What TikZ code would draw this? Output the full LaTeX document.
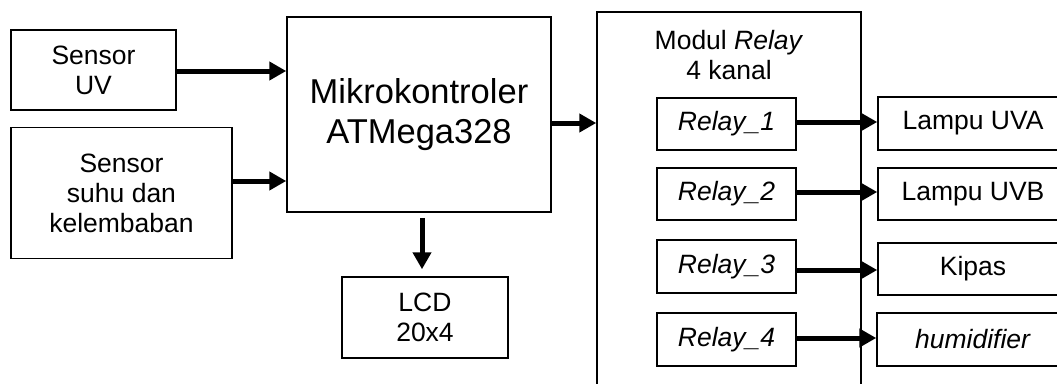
\documentclass[tikz,border=0pt]{standalone}
\usepackage{fontspec}
\setmainfont{Liberation Sans}
\usetikzlibrary{arrows.meta}
\begin{document}
\begin{tikzpicture}[x=1pt,y=-1pt,
  box/.style={draw, line width=1.5pt, inner sep=0pt, align=center,
    font=\fontsize{26.5}{30}\selectfont},
  lbl/.style={inner sep=0pt, align=center, font=\fontsize{26.5}{30}\selectfont},
  arr/.style={line width=5pt, -{Triangle[length=17pt,width=18pt]}}]
\clip (0,0) rectangle (1057,383);
\fill[white] (0,0) rectangle (1057,383);
% left side
\node[box, minimum width=165pt, minimum height=80pt] (s1) at (93.5,70) {Sensor\\UV};
\node[box, minimum width=221pt, minimum height=131pt] (s2) at (121.5,193) {Sensor\\suhu dan\\kelembaban};
\node[box, minimum width=264pt, minimum height=195pt,
  font=\fontsize{34.5}{40}\selectfont] (mcu) at (419,114.5) {Mikrokontroler\\ATMega328};
\node[box, minimum width=166pt, minimum height=81pt] (lcd) at (425,317.5) {LCD\\20x4};
% relay module
\node[box, minimum width=264pt, minimum height=420pt] (mod) at (729,222) {};
\node[lbl] (title) at (729,55) {Modul \textit{Relay}\\4 kanal};
\node[box, minimum width=139pt, minimum height=52pt] (r1) at (726.5,124) {\textit{Relay\_1}};
\node[box, minimum width=139pt, minimum height=52pt] (r2) at (726.5,194) {\textit{Relay\_2}};
\node[box, minimum width=139pt, minimum height=53pt] (r3) at (726.5,266.5) {\textit{Relay\_3}};
\node[box, minimum width=139pt, minimum height=53pt] (r4) at (726.5,339.5) {\textit{Relay\_4}};
% outputs
\node[box, minimum width=190pt, minimum height=53pt] (o1) at (973,123.5) {Lampu UVA};
\node[box, minimum width=190pt, minimum height=52pt] (o2) at (973,194) {Lampu UVB};
\node[box, minimum width=190pt, minimum height=52pt] (o3) at (973,269) {Kipas};
\node[box, minimum width=192pt, minimum height=53pt] (o4) at (973,339.5) {\textit{humidifier}};
% connectors
\coordinate (ya) at (0,71);
\coordinate (yb) at (0,181);
\coordinate (yc) at (0,123);
\draw[arr] (s1.east |- ya) -- (mcu.west |- ya);
\draw[arr] (s2.east |- yb) -- (mcu.west |- yb);
\draw[arr] (mcu.east |- yc) -- (mod.west |- yc);
\draw[arr, shorten <=5pt, shorten >=7pt] ([xshift=3pt]mcu.south) -- ([xshift=-3pt]lcd.north);
\draw[arr] (r1.east |- 0,122) -- (o1.west |- 0,122);
\draw[arr] (r2.east |- 0,192) -- (o2.west |- 0,192);
\draw[arr] (r3.east |- 0,270) -- (o3.west |- 0,270);
\draw[arr] (r4.east |- 0,338) -- (o4.west |- 0,338);
\end{tikzpicture}
\end{document}
